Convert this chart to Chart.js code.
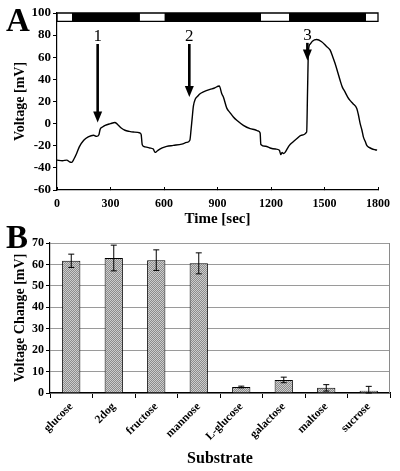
<!DOCTYPE html>
<html><head><meta charset="utf-8">
<script src="https://cdn.jsdelivr.net/npm/chart.js@4.4.0/dist/chart.umd.min.js"></script>
<style>
body{margin:0;background:#fff;width:400px;height:471px;overflow:hidden;position:relative;font-family:'Liberation Serif',serif}
canvas{position:absolute;left:0}
#cA{top:0}
#cB{top:225px}
.panel{position:absolute;font-weight:bold;font-size:33px;line-height:1}
</style></head><body>
<canvas id="cA" width="400" height="235"></canvas>
<canvas id="cB" width="400" height="246"></canvas>
<div class="panel" style="left:6px;top:4px">A</div>
<div class="panel" style="left:6px;top:221px">B</div>
<script>
// panel A - voltage trace
const timeSec=[0,30,55,70,82,95,110,125,150,175,205,222,235,242,255,270,300,325,335,344,360,381,405,428,466,472,478,493,520,540,550,560,568,590,615,652,700,727,745,752,758,765,775,790,802,821,858,880,910,924,933,952,970,989,1008,1045,1083,1110,1129,1139,1143,1170,1195,1225,1247,1255,1262,1270,1279,1290,1303,1320,1344,1370,1400,1405,1410,1420,1432,1456,1484,1510,1531,1545,1559,1575,1587,1600,1615,1630,1643,1660,1681,1690,1700,1710,1718,1728,1737,1750,1765,1784,1795];
const voltageMv=[-33,-33.5,-33,-34.5,-35,-32,-27,-21,-15,-12,-10.5,-11.5,-10,-5,-3,-1.5,0,1,0,-1.5,-4,-6,-7,-7.6,-8.5,-10,-19,-21,-22,-23,-26,-25,-24,-22,-20.6,-19.7,-18.5,-17,-15,-5,5,16,22,25,27,28.7,31,32,34,27,24,14,10,6,3,-1.5,-4.5,-5.5,-6.7,-8.5,-18.8,-20.5,-22,-23,-24,-28,-26,-27,-26,-23,-19.7,-17,-13.7,-10.5,-7.6,30,66,72,74.5,76,74,70,66.6,61,54.5,46,39.4,33,28.7,24,21,18,13.6,8,0,-6,-12,-16,-19.7,-21.5,-22.7,-23.6,-24];
const darkStart=[84,602,1301];
const darkEnd=[465,1144,1733];
const bandTop=100, bandBottom=92.5;
const arrowTime=[228,742,1404];
const arrowTipMv=[1,24,57];
const arrowTopMv=[72,72,73];
const arrowLabel=['1','2','3'];

// panel B - substrates
const substrates=['glucose','2dog','fructose','mannose','L-glucose','galactose','maltose','sucrose'];
const meanChange=[61.7,63,62,60.5,2.8,6.1,2.4,1.1];
const errChange=[3.1,6,4.8,4.9,0.4,1.3,1.5,2];

const serif="'Liberation Serif', 'Times New Roman', serif";
Chart.defaults.font.family=serif;
Chart.defaults.color='#000';
Chart.defaults.animation=false;

const arrowPlugin={
  id:'arrows',
  afterDatasetsDraw(chart){
    const {ctx,scales:{x,y}}=chart;
    ctx.save();
    ctx.strokeStyle='#000';ctx.fillStyle='#000';
    arrowTime.forEach((t,i)=>{
      const px=x.getPixelForValue(t);
      const tip=y.getPixelForValue(arrowTipMv[i]);
      const top=y.getPixelForValue(arrowTopMv[i]);
      ctx.lineWidth=2.6;
      ctx.beginPath();ctx.moveTo(px,top);ctx.lineTo(px,tip-8);ctx.stroke();
      ctx.beginPath();ctx.moveTo(px-4.5,tip-11);ctx.lineTo(px+4.5,tip-11);ctx.lineTo(px,tip);ctx.closePath();ctx.fill();
      ctx.font='17px '+serif;ctx.textAlign='center';ctx.textBaseline='alphabetic';
      ctx.fillText(arrowLabel[i],px,top-3);
    });
    ctx.restore();
  }
};

const bandSets=darkStart.map((s,i)=>({
  data:[{x:s,y:bandTop},{x:darkEnd[i],y:bandTop}],
  fill:{value:bandBottom},backgroundColor:'#000',borderColor:'#000',borderWidth:0,pointRadius:0,clip:false
}));

new Chart(document.getElementById('cA'),{
  type:'line',
  data:{datasets:[
    {data:timeSec.map((t,i)=>({x:t,y:voltageMv[i]})),borderColor:'#000',borderWidth:1.4,pointRadius:0,fill:false,cubicInterpolationMode:'monotone'},
    ...bandSets,
    {data:[{x:0,y:bandBottom},{x:0,y:bandTop},{x:1800,y:bandTop},{x:1800,y:bandBottom},{x:0,y:bandBottom}],borderColor:'#000',borderWidth:1.3,pointRadius:0,fill:false,clip:false}
  ]},
  options:{
    responsive:false,
    layout:{padding:{top:13,right:22,left:0,bottom:0}},
    plugins:{legend:{display:false},tooltip:{enabled:false}},
    scales:{
      x:{type:'linear',min:0,max:1800,
        ticks:{stepSize:300,font:{size:12,weight:'bold'},padding:10,maxRotation:0,callback:v=>String(v)},
        grid:{drawOnChartArea:false,tickLength:-3,tickColor:'#000'},
        border:{color:'#000',width:1.2},
        title:{display:true,text:'Time [sec]',font:{size:15,weight:'bold'},padding:{top:0,bottom:7}},
        afterFit(s){s.height=45}},
      y:{min:-60,max:100,
        ticks:{stepSize:20,font:{size:13,weight:'bold'},padding:2},
        grid:{drawOnChartArea:false,tickLength:4,tickColor:'#000'},
        border:{color:'#000',width:1.2},
        title:{display:true,text:'Voltage [mV]',font:{size:14,weight:'bold'},padding:{top:12,bottom:0}},
        afterFit(s){s.width=57}}
    }
  },
  plugins:[arrowPlugin]
});

// stippled grey fill like the printed bars
function stipple(){
  const c=document.createElement('canvas');c.width=2;c.height=2;
  const g=c.getContext('2d');
  g.fillStyle='#cdcdcd';g.fillRect(0,0,2,2);
  g.fillStyle='#8c8c8c';g.fillRect(0,0,1,1);g.fillRect(1,1,1,1);
  return g.createPattern(c,'repeat');
}

const errPlugin={
  id:'errbars',
  afterDatasetsDraw(chart){
    const {ctx,scales:{y}}=chart;
    const bars=chart.getDatasetMeta(0).data;
    ctx.save();ctx.strokeStyle='#000';ctx.lineWidth=1;
    bars.forEach((b,i)=>{
      const hi=y.getPixelForValue(meanChange[i]+errChange[i]);
      const lo=y.getPixelForValue(Math.max(meanChange[i]-errChange[i],0));
      ctx.beginPath();
      ctx.moveTo(b.x,hi);ctx.lineTo(b.x,lo);
      ctx.moveTo(b.x-3,hi);ctx.lineTo(b.x+3,hi);
      ctx.moveTo(b.x-3,lo);ctx.lineTo(b.x+3,lo);
      ctx.stroke();
    });
    // right frame edge
    const a=chart.chartArea;
    ctx.strokeStyle='#8a8a8a';
    ctx.beginPath();ctx.moveTo(a.right-0.5,a.top);ctx.lineTo(a.right-0.5,a.bottom);ctx.stroke();
    ctx.restore();
  }
};

new Chart(document.getElementById('cB'),{
  type:'bar',
  data:{labels:substrates,datasets:[{data:meanChange,backgroundColor:stipple(),borderColor:'#000',borderWidth:1,barPercentage:0.43,categoryPercentage:1}]},
  options:{
    responsive:false,
    layout:{padding:{top:18,right:10,left:0,bottom:0}},
    plugins:{legend:{display:false},tooltip:{enabled:false}},
    scales:{
      x:{ticks:{font:{size:11.5,weight:'bold'},minRotation:45,maxRotation:45,padding:2},
        grid:{drawOnChartArea:false,tickLength:5,tickColor:'#000'},
        border:{color:'#000',width:1.2},
        title:{display:true,text:'Substrate',font:{size:16,weight:'bold'},padding:{top:0,bottom:3}},
        afterFit(s){s.height=78}},
      y:{min:0,max:70,
        ticks:{stepSize:10,font:{size:12,weight:'bold'},padding:2},
        grid:{color:'#9a9a9a',tickLength:4,tickColor:'#000'},
        border:{color:'#000',width:1.2},
        title:{display:true,text:'Voltage Change [mV]',font:{size:14,weight:'bold'},padding:{top:12,bottom:0}},
        afterFit(s){s.width=50}}
    }
  },
  plugins:[errPlugin]
});
</script>
</body></html>
